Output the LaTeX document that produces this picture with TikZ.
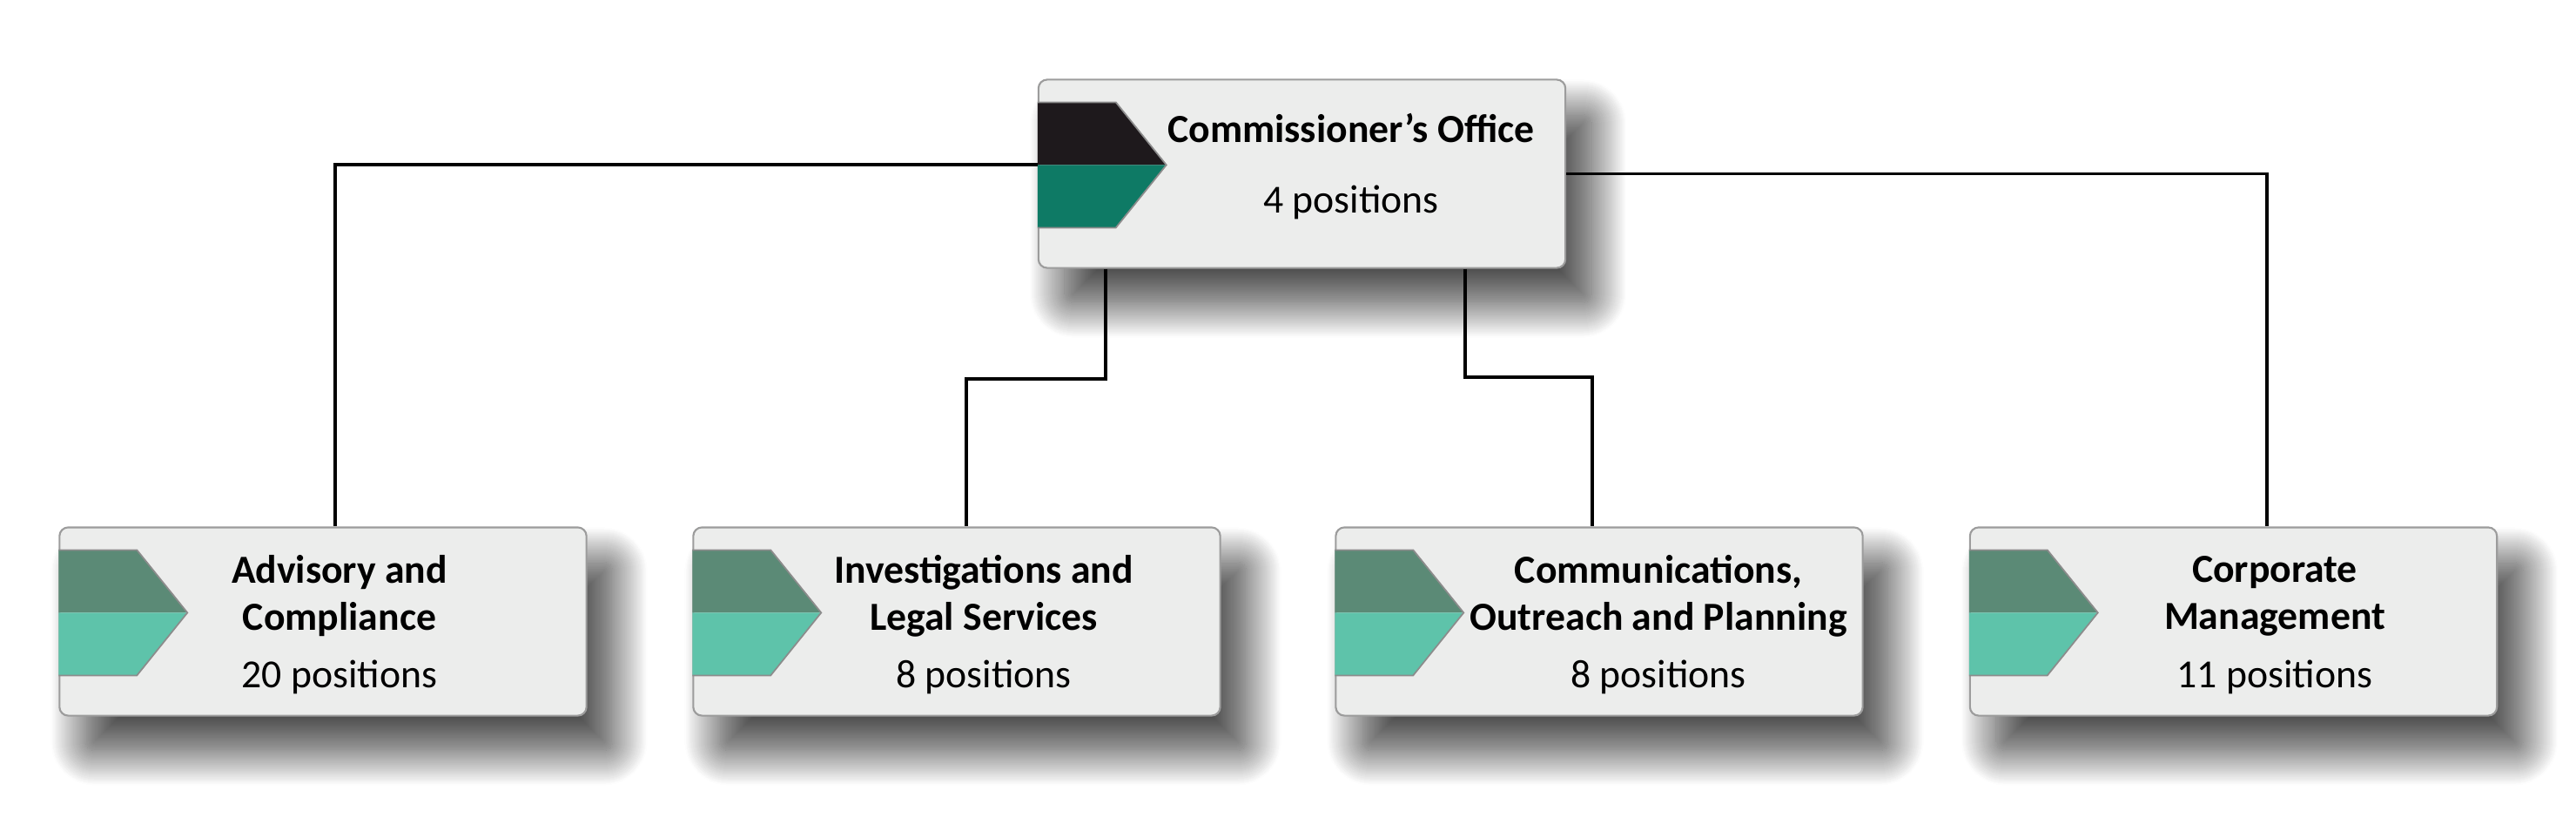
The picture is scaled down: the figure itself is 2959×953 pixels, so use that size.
\documentclass[tikz,border=0pt]{standalone}
\usepackage{fontspec}
\setmainfont{Carlito}
\usetikzlibrary{positioning, calc, shadows.blur}

\definecolor{boxfill}{HTML}{ECEDEC}
\definecolor{boxline}{HTML}{9C9C9C}
\definecolor{headdark}{HTML}{1E191C}
\definecolor{headteal}{HTML}{0E7A65}
\definecolor{unitdark}{HTML}{5B8A76}
\definecolor{unitlight}{HTML}{5EC3AA}

% chevron tab on the left edge of a box: node, upper colour, lower colour
\newcommand\tabmark[3]{%
  \fill[#2] ($(#1.north west)+(0,-27)$) -- ++(90,0) -- ++(58,-72) -- ++(-148,0) -- cycle;
  \fill[#3] ($(#1.north west)+(0,-99)$) -- ++(148,0) -- ++(-58,-72) -- ++(-90,0) -- cycle;
  \draw[black!45, line width=0.5pt] ($(#1.north west)+(0,-27)$) -- ++(90,0) -- ++(58,-72)
        -- ++(-58,-72) -- ++(-90,0);
}

\begin{document}
\begin{tikzpicture}[
    x=0.01cm, y=0.01cm,
    % Boxes
    unit/.style={draw=boxline, fill=boxfill, line width=0.6pt, rounded corners=0.1cm,
                 minimum width=6.05cm, minimum height=2.16cm,
                 blur shadow={shadow xshift=0cm, shadow yshift=0cm, shadow blur radius=0.12cm,
                              shadow blur steps=20, shadow opacity=35},
                 blur shadow={shadow xshift=0.3cm, shadow yshift=-0.4cm, shadow blur radius=0.4cm,
                              shadow blur steps=40, shadow opacity=45}},
    title/.style={font=\fontsize{13}{15.3}\selectfont\bfseries, align=center},
    count/.style={font=\fontsize{13}{15}\selectfont},
    % Connectors
    link/.style={draw=black, line width=0.035cm}
]
\useasboundingbox (0,0) rectangle (2959,953);

% --------------------------- Boxes -----------------------------------
\node[unit] (office) at (1495.5,753.5) {};
\node[unit] (adv)    at (371,239.5)    {};
\node[unit] (inv)    at (1099,239.5)   {};
\node[unit] (com)    at (1837,239.5)   {};
\node[unit] (corp)   at (2565.5,239.5) {};

\tabmark{office}{headdark}{headteal}
\tabmark{adv}{unitdark}{unitlight}
\tabmark{inv}{unitdark}{unitlight}
\tabmark{com}{unitdark}{unitlight}
\tabmark{corp}{unitdark}{unitlight}

% -------------------------- Connectors -------------------------------
\draw[link] ($(office.west)+(0,10.5)$) -| ($(adv.north)+(14,0)$);
\draw[link] (office.east) -| ($(corp.north)+(38.5,0)$);
\draw[link] ($(office.south)+(-225.5,0)$) |- (1110,518) -- ($(inv.north)+(11,0)$);
\draw[link] ($(office.south)+(187.5,0)$) |- (1829,520) -- ($(com.north)+(-8,0)$);

% --------------------------- Texts -----------------------------------
\node[title] (officeT) at ($(office)+(56.5,52.5)$)  {Commissioner’s Office};
\node[count] (officeN) at ($(office)+(56.5,-32.5)$) {4 positions};

\node[title] (advT) at ($(adv)+(19,29.5)$)  {Advisory and\\Compliance};
\node[count] (advN) at ($(adv)+(19,-63.5)$) {20 positions};

\node[title] (invT) at ($(inv)+(31,29.5)$)  {Investigations and\\Legal Services};
\node[count] (invN) at ($(inv)+(31,-63.5)$) {8 positions};

\node[title] (comT) at ($(com)+(68,29.5)$)  {Communications,\\Outreach and Planning};
\node[count] (comN) at ($(com)+(68,-63.5)$) {8 positions};

\node[title] (corpT) at ($(corp)+(47.5,29.5)$)  {Corporate\\Management};
\node[count] (corpN) at ($(corp)+(47.5,-63.5)$) {11 positions};

\end{tikzpicture}
\end{document}
